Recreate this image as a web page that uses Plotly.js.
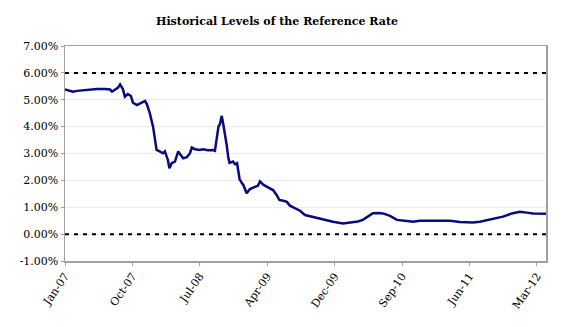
<!DOCTYPE html>
<html>
<head>
<meta charset="utf-8">
<script src="https://cdn.plot.ly/plotly-3.0.1.min.js"></script>
<style>html,body{margin:0;padding:0;background:#fff;}#chart{width:570px;height:327px;}</style>
</head>
<body>
<div id="chart"></div>
<script>
// Reference rate (%)
const dates = [
  "2007-01-21","2007-02-02","2007-02-22","2007-03-10","2007-04-10","2007-05-28","2007-06-29","2007-07-19",
  "2007-07-27","2007-08-08","2007-08-20","2007-08-28","2007-09-03","2007-09-08","2007-09-16","2007-09-28",
  "2007-10-10","2007-10-18","2007-11-03","2007-11-15","2007-11-23","2007-12-05","2007-12-13","2007-12-24",
  "2008-01-06","2008-01-14","2008-01-20","2008-02-03","2008-02-15","2008-02-22","2008-03-01","2008-03-05",
  "2008-03-11","2008-03-20","2008-04-02","2008-04-09","2008-04-15","2008-04-25","2008-05-05","2008-05-19",
  "2008-06-01","2008-06-08","2008-06-21","2008-07-10","2008-07-22","2008-08-11","2008-08-31","2008-09-08",
  "2008-09-15","2008-09-22","2008-09-28","2008-10-05","2008-10-10","2008-10-18","2008-10-25","2008-10-31",
  "2008-11-05","2008-11-19","2008-11-27","2008-12-05","2008-12-11","2008-12-15","2008-12-24","2008-12-30",
  "2009-01-12","2009-01-25","2009-02-14","2009-02-26","2009-03-06","2009-03-19","2009-04-07","2009-04-27",
  "2009-05-11","2009-05-22","2009-06-07","2009-06-21","2009-07-03","2009-07-16","2009-08-12","2009-09-01",
  "2009-10-03","2009-11-11","2009-12-21","2010-01-30","2010-02-27","2010-03-30","2010-04-19","2010-05-09",
  "2010-05-29","2010-06-18","2010-07-08","2010-08-05","2010-09-01","2010-10-11","2010-11-04","2010-12-02",
  "2011-03-31","2011-05-10","2011-06-30","2011-07-28","2011-09-06","2011-10-28","2011-12-02","2012-01-03",
  "2012-01-31","2012-02-24","2012-04-16"
];
const rate = [
  5.38,5.36,5.30,5.33,5.36,5.40,5.40,5.38,
  5.30,5.38,5.45,5.57,5.50,5.40,5.11,5.21,
  5.14,4.89,4.80,4.86,4.90,4.96,4.82,4.50,
  4.00,3.40,3.13,3.07,3.01,3.08,2.90,2.76,
  2.45,2.64,2.70,2.94,3.08,2.94,2.82,2.86,
  3.01,3.22,3.16,3.13,3.16,3.12,3.13,3.10,
  3.50,4.00,4.10,4.40,4.15,3.75,3.30,2.85,
  2.65,2.70,2.60,2.64,2.35,2.05,1.90,1.83,
  1.52,1.68,1.76,1.80,1.96,1.84,1.74,1.64,
  1.46,1.27,1.24,1.20,1.06,1.00,0.87,0.71,
  0.63,0.55,0.46,0.40,0.43,0.47,0.53,0.65,
  0.78,0.79,0.77,0.68,0.53,0.49,0.46,0.50,
  0.50,0.45,0.43,0.46,0.55,0.65,0.77,0.83,
  0.80,0.77,0.76
];
const upperLevel = 6.0;
const lowerLevel = 0.0;
const yTicks = [-1,0,1,2,3,4,5,6,7];
const xTickDates = ["2007-01-21","2007-10-16","2008-07-10","2009-04-04","2009-12-28","2010-09-22","2011-06-17","2012-03-11"];
const xStart = dates[0];
const xEnd = dates[dates.length-1];

const serif = "DejaVu Serif, Liberation Serif, serif";

const traces = [
  {x:[xStart,xEnd], y:[upperLevel,upperLevel], type:"scatter", mode:"lines",
   line:{color:"#000000", width:2, dash:"4px,5px"}, hoverinfo:"skip", showlegend:false},
  {x:[xStart,xEnd], y:[lowerLevel,lowerLevel], type:"scatter", mode:"lines",
   line:{color:"#000000", width:2, dash:"4px,5px"}, hoverinfo:"skip", showlegend:false},
  {x:dates, y:rate, type:"scatter", mode:"lines",
   line:{color:"#0a0a80", width:2.5}, showlegend:false}
];

const layout = {
  width:570, height:327,
  margin:{l:65, r:24, t:46, b:66},
  paper_bgcolor:"#ffffff", plot_bgcolor:"#ffffff",
  font:{family:serif, size:11, color:"#000"},
  title:{text:"<b>Historical Levels of the Reference Rate</b>", font:{family:serif, size:11, color:"#000"},
         x:0.486, xref:"container", xanchor:"center", y:0.935, yref:"container", yanchor:"middle"},
  xaxis:{type:"date", range:[xStart,xEnd], tickvals:xTickDates, tickformat:"%b-%y", tickangle:-55,
         showgrid:false, zeroline:false, showline:true, linecolor:"#a0a0a0", linewidth:1.5, mirror:true,
         ticks:"outside", ticklen:3, tickcolor:"#a0a0a0", tickfont:{family:serif, size:11}},
  yaxis:{range:[-1,7], tickvals:yTicks, ticktext:yTicks.map(v=>v.toFixed(2)+"%"),
         showgrid:true, gridcolor:"#ececec", gridwidth:1, zeroline:false,
         showline:true, linecolor:"#a0a0a0", linewidth:1.5, mirror:true,
         ticks:"outside", ticklen:3, tickcolor:"#a0a0a0", tickfont:{family:serif, size:11}}
};

Plotly.newPlot("chart", traces, layout, {staticPlot:true, displayModeBar:false});
</script>
</body>
</html>
